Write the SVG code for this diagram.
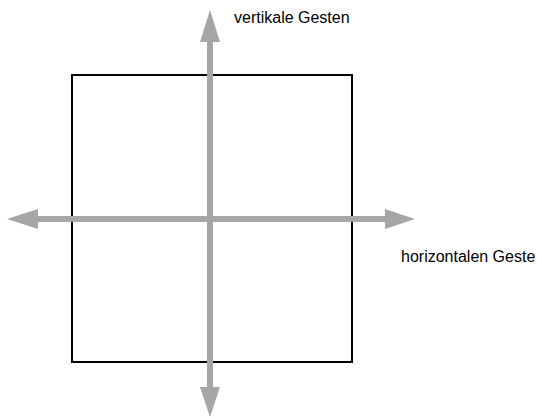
<svg xmlns="http://www.w3.org/2000/svg" width="537" height="419" viewBox="0 0 537 419">
<style>
.lbl{font-family:"Liberation Sans",Arial,sans-serif;font-size:16px;fill:#000}
.shaft{stroke:#a6a6a6;stroke-width:6;fill:none}
.head{fill:#a6a6a6}
</style>
<rect width="537" height="419" fill="#fff"/>
<g id="box"><rect x="72" y="75" width="280" height="287" fill="none" stroke="#000" stroke-width="2"/></g>
<g id="connectors">
<line class="shaft" x1="210" y1="38" x2="210" y2="390"/>
<polygon class="head" points="210,10 200,42 220,42"/>
<polygon class="head" points="210,417 200,387 220,387"/>
<line class="shaft" x1="35" y1="219" x2="388" y2="219"/>
<polygon class="head" points="7,219 38,209 38,229"/>
<polygon class="head" points="415,219 385,209 385,229"/>
</g>
<g id="label-v"><text class="lbl" x="234" y="23">vertikale Gesten</text></g>
<g id="label-h"><text class="lbl" x="401" y="262">horizontalen Geste</text></g>
</svg>
